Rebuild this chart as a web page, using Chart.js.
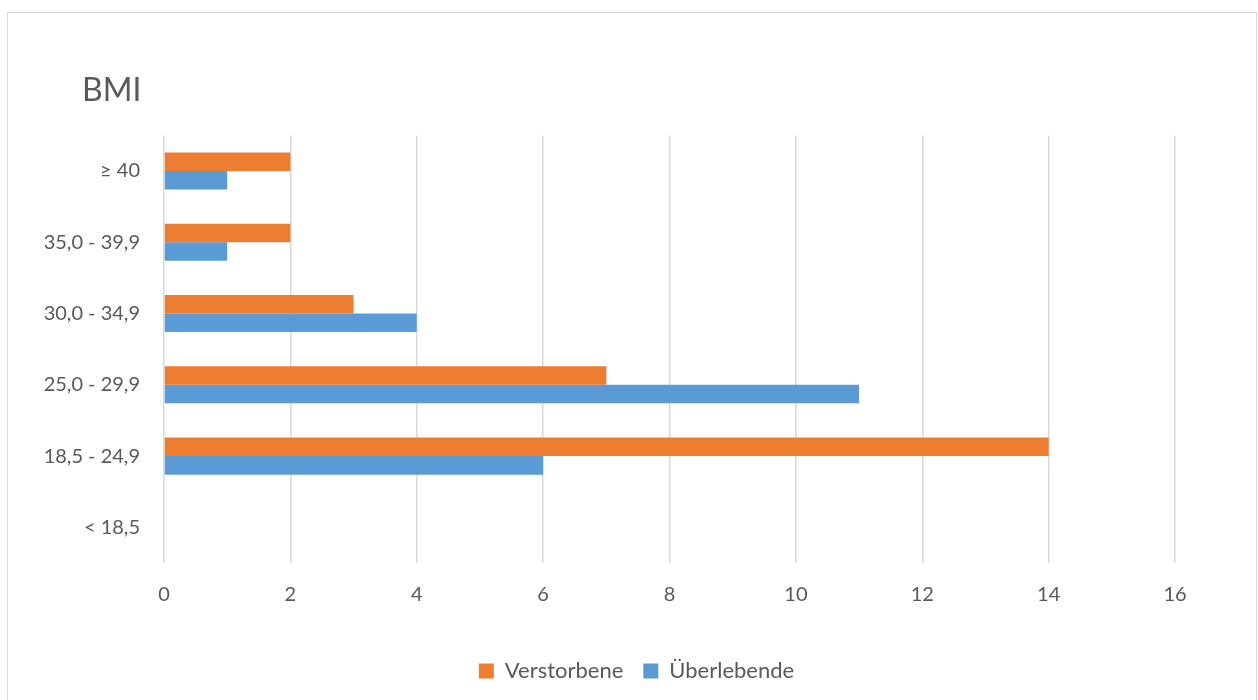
<!DOCTYPE html>
<html lang="de">
<head>
<meta charset="utf-8">
<title>BMI</title>
<script src="https://cdn.jsdelivr.net/npm/chart.js@4.4.1/dist/chart.umd.min.js"></script>
<style>
    html, body { margin: 0; padding: 0; background: #ffffff; overflow: hidden; }
    #wrap { position: relative; width: 1258px; height: 700px; }
    #frame {
        position: absolute; left: 7px; top: 12px; width: 1250px; height: 700px;
        border: 1px solid #d9d9d9; box-sizing: border-box; pointer-events: none;
    }
    canvas { position: absolute; left: 0; top: 0; }
</style>
</head>
<body>
<div id="wrap">
    <div id="frame"></div>
    <canvas id="bmiChart" width="1258" height="700"></canvas>
</div>
<script>
// BMI groups, top to bottom as shown
const categories = ['≥ 40', '35,0 - 39,9', '30,0 - 34,9', '25,0 - 29,9', '18,5 - 24,9', '< 18,5'];
const verstorbene = [2, 2, 3, 7, 14, 0];
const ueberlebende = [1, 1, 4, 11, 6, 0];
const xTicks = [0, 2, 4, 6, 8, 10, 12, 14, 16];

const textColor = '#595959';
const fontFamily = "Lato, 'Open Sans', sans-serif";

// move title and legend over so they line up like the original,
// without moving the y labels
const blockOffset = {
    id: 'blockOffset',
    afterLayout(chart) {
        if (chart.titleBlock) chart.titleBlock.left = 82;
        if (chart.legend) {
            chart.legend.left += 49;
            chart.legend.right += 49;
        }
    }
};

document.addEventListener('DOMContentLoaded', function () {
    const ctx = document.getElementById('bmiChart').getContext('2d');

    new Chart(ctx, {
        type: 'bar',
        data: {
            labels: categories,
            datasets: [
                {
                    label: 'Verstorbene',
                    data: verstorbene,
                    backgroundColor: '#ED7D31',
                    borderWidth: 0
                },
                {
                    label: 'Überlebende',
                    data: ueberlebende,
                    backgroundColor: '#5B9BD5',
                    borderWidth: 0
                }
            ]
        },
        options: {
            indexAxis: 'y',
            responsive: false,
            animation: false,
            datasets: {
                bar: { categoryPercentage: 0.52, barPercentage: 1 }
            },
            layout: {
                padding: { left: 0, right: 83, top: 0, bottom: 8 }
            },
            scales: {
                x: {
                    min: xTicks[0],
                    max: xTicks[xTicks.length - 1],
                    afterBuildTicks: function (scale) {
                        scale.ticks = xTicks.map(v => ({ value: v }));
                    },
                    afterFit: function (scale) { scale.height = 77; },
                    border: { display: false },
                    grid: { color: '#d9d9d9', lineWidth: 1.5, drawTicks: false },
                    ticks: {
                        padding: 20,
                        color: textColor,
                        font: { family: fontFamily, size: 20 }
                    }
                },
                y: {
                    afterFit: function (scale) { scale.width = 164; },
                    border: { display: false },
                    grid: { display: false, drawTicks: false },
                    ticks: {
                        padding: 24,
                        color: textColor,
                        font: { family: fontFamily, size: 20 }
                    }
                }
            },
            plugins: {
                title: {
                    display: true,
                    text: 'BMI',
                    align: 'start',
                    color: textColor,
                    font: { family: fontFamily, size: 32, weight: 'normal' },
                    padding: { top: 71, bottom: 26 }
                },
                legend: {
                    position: 'bottom',
                    labels: {
                        boxWidth: 15,
                        boxHeight: 15,
                        padding: 20,
                        color: textColor,
                        font: { family: fontFamily, size: 22 }
                    }
                },
                tooltip: { enabled: false }
            }
        },
        plugins: [blockOffset]
    });
});
</script>
</body>
</html>
